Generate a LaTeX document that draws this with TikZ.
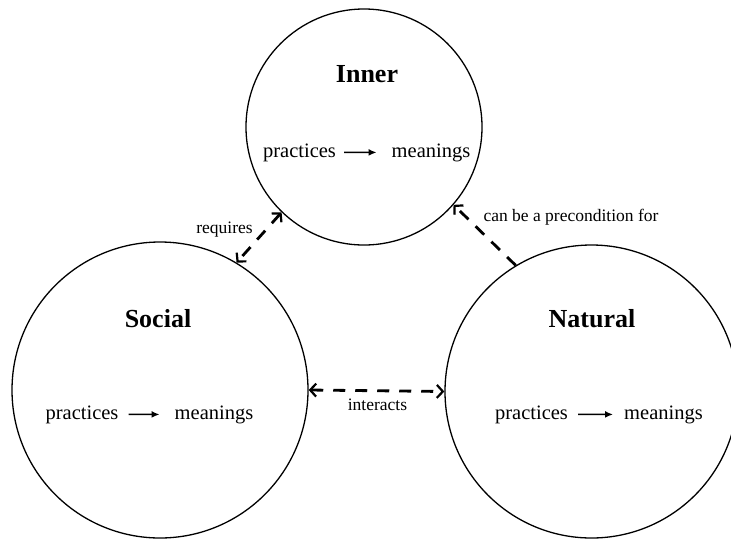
\documentclass[tikz,border=0pt]{standalone}
\usepackage{fontspec}
\setmainfont{Liberation Serif}
\usetikzlibrary{arrows.meta}
\begin{document}
\begin{tikzpicture}[x=1pt,y=-1pt,
  ring/.style={circle,draw,line width=1.3pt,inner sep=0pt},
  title/.style={font=\fontsize{26}{30}\selectfont\bfseries,anchor=base,inner sep=0pt},
  word/.style={font=\fontsize{20.5}{24}\selectfont,anchor=base,inner sep=0pt},
  lbl/.style={font=\fontsize{17.5}{20}\selectfont,anchor=base,inner sep=0pt},
  barb/.tip={Straight Barb[length=6pt,width=13pt,line width=2.2pt]},
  link/.style={line width=2.8pt,dash pattern=on 12pt off 10pt,barb-barb},
  onelink/.style={line width=2.8pt,dash pattern=on 12pt off 10pt,-barb},
  flow/.style={line width=1.5pt,-{Latex[length=8pt,width=7pt]}}]
\useasboundingbox (0,0) rectangle (731,539);
% circles
\node[ring,minimum size=236pt] (inner) at (364,127) {};
\node[ring,minimum size=296pt] (social) at (160,390) {};
\node[ring,minimum size=293pt] (natural) at (591.5,391.5) {};
% titles
\node[title] (tinner) at (367,82) {Inner};
\node[title] (tsocial) at (158,327) {Social};
\node[title] (tnatural) at (592,327) {Natural};
% practices -> meanings
\node[word] (ip) at (299.5,157) {practices};
\node[word] (im) at (431,157) {meanings};
\draw[flow] ([xshift=8pt]ip.east) -- ([xshift=-15pt]im.west);
\node[word] (sp) at (82,419) {practices};
\node[word] (sm) at (214,419) {meanings};
\draw[flow] ([xshift=10pt]sp.east) -- ([xshift=-15pt]sm.west);
\node[word] (np) at (531.5,419) {practices};
\node[word] (nm) at (663.5,419) {meanings};
\draw[flow] ([xshift=10pt]np.east) -- ([xshift=-11pt]nm.west);
% relations
\draw[link] (inner.226) -- (social.59);
\draw[link] (social.east) -- (natural.west);
\draw[onelink] (natural.121) -- (inner.319);
% labels
\node[lbl] (lreq) at (224.5,233) {requires};
\node[lbl] (lint) at (377.5,410) {interacts};
\node[lbl] (lpre) at (571,221) {can be a precondition for};
\end{tikzpicture}
\end{document}
